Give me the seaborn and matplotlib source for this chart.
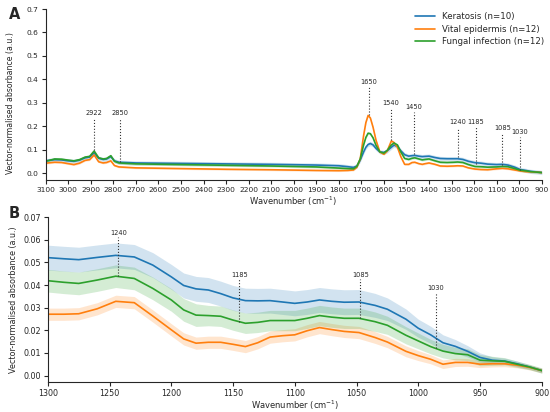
import seaborn as sns
import matplotlib.pyplot as plt
import numpy as np
import pandas as pd

# Group names and colours
groups = ["Keratosis (n=10)", "Vital epidermis (n=12)", "Fungal infection (n=12)"]
colors = ["#1f77b4", "#ff7f0e", "#2ca02c"]

# Panel A: full spectrum (mean curves)
wn_a = [3100, 3060, 3030, 3000, 2975, 2950, 2925, 2905, 2885, 2865, 2845, 2830, 2811, 2795, 2775,
        2700, 2500, 2300, 2100, 1900, 1800, 1760, 1735, 1720, 1705, 1690, 1680, 1670, 1660, 1648,
        1635, 1618, 1600, 1585, 1567, 1555, 1540, 1525, 1508, 1490, 1475, 1463, 1445, 1430, 1417,
        1400, 1373, 1350, 1320, 1290, 1273, 1250, 1225, 1196, 1170, 1140, 1100, 1075, 1050, 1020,
        996, 970, 950, 925, 900]
keratosis_a = [0.052, 0.057, 0.056, 0.052, 0.050, 0.055, 0.065, 0.068, 0.086, 0.063, 0.058, 0.060, 0.070, 0.052, 0.046,
               0.043, 0.041, 0.039, 0.037, 0.034, 0.031, 0.027, 0.024, 0.030, 0.055, 0.090, 0.110, 0.122, 0.126, 0.120,
               0.105, 0.090, 0.088, 0.095, 0.110, 0.119, 0.113, 0.095, 0.078, 0.072, 0.074, 0.075, 0.072, 0.070, 0.071,
               0.072, 0.066, 0.062, 0.061, 0.061, 0.061, 0.058, 0.050, 0.044, 0.042, 0.038, 0.036, 0.037, 0.034, 0.025,
               0.015, 0.011, 0.007, 0.005, 0.002]
vital_a = [0.042, 0.046, 0.045, 0.040, 0.036, 0.042, 0.054, 0.057, 0.077, 0.048, 0.043, 0.045, 0.052, 0.032, 0.026,
           0.022, 0.019, 0.016, 0.014, 0.011, 0.010, 0.011, 0.013, 0.025, 0.060, 0.160, 0.215, 0.246, 0.235, 0.195,
           0.140, 0.090, 0.080, 0.095, 0.137, 0.130, 0.110, 0.070, 0.037, 0.037, 0.045, 0.046, 0.040, 0.037, 0.040,
           0.043, 0.037, 0.030, 0.029, 0.030, 0.031, 0.030, 0.022, 0.017, 0.015, 0.014, 0.018, 0.020, 0.018, 0.013,
           0.009, 0.006, 0.005, 0.004, 0.002]
fungal_a = [0.050, 0.060, 0.059, 0.055, 0.052, 0.057, 0.068, 0.071, 0.094, 0.065, 0.060, 0.062, 0.074, 0.050, 0.043,
            0.039, 0.036, 0.033, 0.030, 0.026, 0.021, 0.019, 0.018, 0.028, 0.060, 0.120, 0.152, 0.170, 0.168, 0.150,
            0.118, 0.090, 0.085, 0.097, 0.120, 0.128, 0.120, 0.090, 0.062, 0.058, 0.063, 0.065, 0.060, 0.056, 0.058,
            0.060, 0.052, 0.046, 0.045, 0.046, 0.047, 0.045, 0.036, 0.028, 0.027, 0.025, 0.026, 0.028, 0.027, 0.019,
            0.012, 0.009, 0.006, 0.004, 0.002]
sd_a = [0.009, 0.004, 0.005]

peaks_a = ["2922", "2850", "1650", "1540", "1450", "1240", "1185", "1085", "1030"]
peak_x_a = [2887, 2772, 1668, 1570, 1468, 1273, 1191, 1075, 996]
peak_top_a = [0.233, 0.233, 0.366, 0.276, 0.261, 0.193, 0.197, 0.169, 0.154]
peak_bot_a = [0.097, 0.045, 0.247, 0.140, 0.083, 0.069, 0.040, 0.036, 0.012]

# Panel B: 1300-900 cm-1 region
wn_b = [1300, 1287, 1275, 1260, 1245, 1230, 1215, 1200, 1190, 1180, 1170, 1160, 1150, 1140, 1130, 1120,
        1110, 1100, 1090, 1080, 1070, 1060, 1048, 1035, 1025, 1010, 1000, 990, 980, 970, 960, 950, 940,
        930, 920, 910, 900]
keratosis_b = [0.0521, 0.0516, 0.0512, 0.0522, 0.0531, 0.0524, 0.0488, 0.0436, 0.0398, 0.0383, 0.0378, 0.0362,
               0.0343, 0.0331, 0.0330, 0.0331, 0.0325, 0.0319, 0.0325, 0.0334, 0.0328, 0.0324, 0.0325, 0.0310,
               0.0293, 0.0249, 0.0209, 0.0180, 0.0145, 0.0129, 0.0107, 0.0080, 0.0068, 0.0064, 0.0052, 0.0038,
               0.0022]
vital_b = [0.0271, 0.0271, 0.0273, 0.0295, 0.0328, 0.0322, 0.0263, 0.0202, 0.0162, 0.0143, 0.0147, 0.0147,
           0.0138, 0.0128, 0.0145, 0.0170, 0.0176, 0.0180, 0.0198, 0.0212, 0.0203, 0.0195, 0.0190, 0.0168,
           0.0148, 0.0107, 0.0088, 0.0072, 0.0050, 0.0058, 0.0058, 0.0050, 0.0052, 0.0052, 0.0046, 0.0036,
           0.0022]
fungal_b = [0.0419, 0.0412, 0.0407, 0.0422, 0.0439, 0.0429, 0.0385, 0.0334, 0.0290, 0.0267, 0.0265, 0.0262,
            0.0245, 0.0231, 0.0235, 0.0243, 0.0243, 0.0243, 0.0253, 0.0265, 0.0258, 0.0253, 0.0253, 0.0238,
            0.0222, 0.0178, 0.0153, 0.0128, 0.0108, 0.0097, 0.0092, 0.0068, 0.0065, 0.0063, 0.0050, 0.0038,
            0.0022]
keratosis_sd_b = [0.0055] * 23 + [0.0053, 0.0050, 0.0045, 0.0040, 0.0038, 0.0035, 0.0030, 0.0025, 0.0020,
                                  0.0015, 0.0013, 0.0012, 0.0010, 0.0010]
vital_sd_b = [0.0027] * 23 + [0.0026, 0.0025, 0.0024, 0.0022, 0.0020, 0.0019, 0.0018, 0.0017, 0.0015,
                              0.0014, 0.0013, 0.0012, 0.0011, 0.0010]
fungal_sd_b = [0.0050] * 10 + [0.0045] * 13 + [0.0043, 0.0040, 0.0038, 0.0035, 0.0032, 0.0030, 0.0028,
                                               0.0026, 0.0025, 0.0020, 0.0016, 0.0014, 0.0012, 0.0012]

peaks_b = ["1240", "1185", "1085", "1030"]
peak_x_b = [1243, 1145, 1047, 986]
peak_top_b = [0.0612, 0.0425, 0.0425, 0.0365]
peak_bot_b = [0.0440, 0.0235, 0.0255, 0.0120]
peak_text_b = [0.0630, 0.0445, 0.0445, 0.0385]


def long_frame(wn, series):
    frames = []
    for name, vals in zip(groups, series):
        frames.append(pd.DataFrame({"wn": wn, "abs": vals, "group": name}))
    return pd.concat(frames, ignore_index=True)


sns.set_style("ticks")
plt.rcParams["font.family"] = ["DejaVu Sans"]

fig = plt.figure(figsize=(5.5, 4.12), dpi=100)
axA = fig.add_axes([0.083, 0.563, 0.902, 0.415])
axB = fig.add_axes([0.087, 0.072, 0.898, 0.401])

# ---- panel A ----
series_a = [keratosis_a, vital_a, fungal_a]
for vals, sd, c in zip(series_a, sd_a, colors):
    v = np.array(vals)
    axA.fill_between(wn_a, v - sd, v + sd, color=c, alpha=0.2, lw=0)
sns.lineplot(data=long_frame(wn_a, series_a), x="wn", y="abs", hue="group",
             palette=colors, hue_order=groups, lw=1.2, ax=axA)
for lab, x, top, bot in zip(peaks_a, peak_x_a, peak_top_a, peak_bot_a):
    axA.plot([x, x], [bot, top], ls=":", color="#333333", lw=0.8)
    axA.text(x, top + 0.01, lab, ha="center", va="bottom", fontsize=4.8)
axA.set_xlim(3100, 900)
axA.set_ylim(-0.03, 0.7)
axA.set_xticks(np.arange(3100, 899, -100))
axA.set_yticks(np.arange(0, 0.71, 0.1))
axA.tick_params(labelsize=5.4, length=3, width=0.8, pad=2)
axA.set_xlabel("Wavenumber (cm$^{-1}$)", fontsize=6, labelpad=1.5)
axA.set_ylabel("Vector-normalised absorbance (a.u.)", fontsize=5.6, labelpad=5)
axA.yaxis.set_label_coords(-0.062, 0.45)
axA.legend(loc="upper right", bbox_to_anchor=(1.02, 1.03), frameon=False, fontsize=6.2,
           handlelength=2.3, labelspacing=0.45)
sns.despine(ax=axA)

# ---- panel B ----
series_b = [keratosis_b, vital_b, fungal_b]
sds_b = [keratosis_sd_b, vital_sd_b, fungal_sd_b]
for vals, sd, c in zip(series_b, sds_b, colors):
    v, s = np.array(vals), np.array(sd)
    axB.fill_between(wn_b, v - s, v + s, color=c, alpha=0.2, lw=0)
sns.lineplot(data=long_frame(wn_b, series_b), x="wn", y="abs", hue="group",
             palette=colors, hue_order=groups, lw=1.2, ax=axB, legend=False)
for lab, x, top, bot, ty in zip(peaks_b, peak_x_b, peak_top_b, peak_bot_b, peak_text_b):
    axB.plot([x, x], [bot, top], ls=":", color="#333333", lw=0.8)
    axB.text(x, ty, lab, ha="center", va="center", fontsize=4.8)
axB.set_xlim(1300, 900)
axB.set_ylim(-0.003, 0.07)
axB.set_xticks(np.arange(1300, 899, -50))
axB.set_yticks(np.arange(0, 0.071, 0.01))
axB.yaxis.set_major_formatter(plt.FormatStrFormatter("%.2f"))
axB.tick_params(labelsize=5.8, length=3, width=0.8, pad=2)
axB.set_xlabel("Wavenumber (cm$^{-1}$)", fontsize=6, labelpad=0.5)
axB.set_ylabel("Vector-normalised absorbance (a.u.)", fontsize=5.8, labelpad=4)
sns.despine(ax=axB)

fig.text(0.016, 0.965, "A", fontsize=10.5, fontweight="bold", va="center")
fig.text(0.016, 0.482, "B", fontsize=10.5, fontweight="bold", va="center")

fig.savefig("out.png", dpi=100)
